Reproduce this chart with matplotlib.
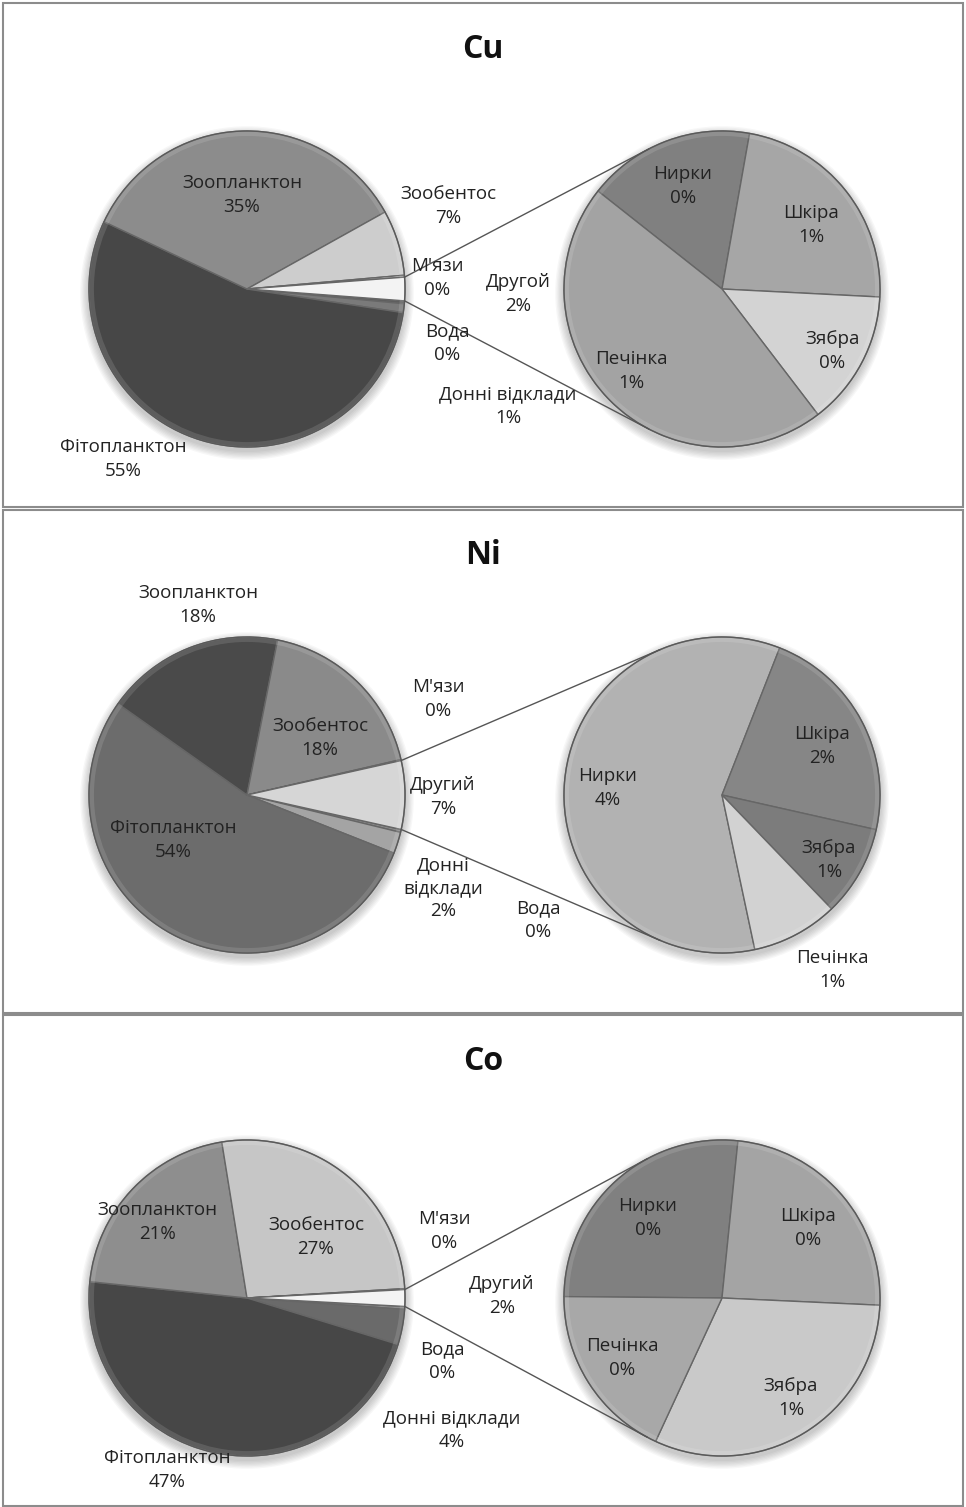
import math
import matplotlib.pyplot as plt
from matplotlib.patches import Rectangle, Circle

plt.rcParams['font.family'] = ['Open Sans', 'DejaVu Sans']

W, H = 966, 1507

titles = ['Cu', 'Ni', 'Co']

# main pie slices, listed clockwise starting just below the "other" slice
main_names = ['Вода', 'Донні відклади', 'Фітопланктон', 'Зоопланктон', 'Зообентос', "М'язи"]
# slices of the secondary pie (the "other" part), clockwise
sub_names = ['Нирки', 'Шкіра', 'Зябра', 'Печінка']
other_names = ['Другой', 'Другий', 'Другий']

cu_main = [0.3, 0.9, 54.6, 34.9, 6.7, 0.2]
cu_sub = [0.41, 0.55, 0.33, 1.10]
ni_main = [0.3, 2.2, 53.8, 18.3, 18.3, 0.1]
ni_sub = [4.15, 1.58, 0.65, 0.62]
co_main = [0.3, 3.6, 46.9, 20.8, 26.6, 0.1]
co_sub = [0.45, 0.41, 0.53, 0.31]

mains = [cu_main, ni_main, co_main]
subs = [cu_sub, ni_sub, co_sub]

# grey fills: main slices + other, then secondary slices
main_colors = [
    ['#5e5e5e', '#7a7a7a', '#474747', '#8c8c8c', '#cdcdcd', '#e2e2e2', '#f3f3f3'],
    ['#8a8a8a', '#a4a4a4', '#6c6c6c', '#4a4a4a', '#8a8a8a', '#c4c4c4', '#d6d6d6'],
    ['#8c8c8c', '#6a6a6a', '#474747', '#8e8e8e', '#c6c6c6', '#dedede', '#f3f3f3'],
]
sub_colors = [
    ['#808080', '#a6a6a6', '#d3d3d3', '#a3a3a3'],
    ['#b2b2b2', '#868686', '#7c7c7c', '#d2d2d2'],
    ['#808080', '#a4a4a4', '#c9c9c9', '#a8a8a8'],
]

# layout (pixel coordinates, y measured from the top)
R = 158
main_cx, sub_cx = 247, 722
centers_y = [289, 795, 1298]
title_y = [49, 555, 1061]
sub_start = [141.7, -78.0, -180.5]
panels = [(3, 507), (510, 1013), (1015, 1506)]

main_label_pos = [
    [(447, 343), (508, 406), (123, 459), (242, 195), (448, 206), (437, 278)],
    [(538, 920), (443, 888), (173, 840), (198, 605), (320, 738), (438, 699)],
    [(442, 1361), (452, 1430), (167, 1470), (157, 1222), (316, 1237), (444, 1231)],
]
other_label_pos = [(518, 294), (443, 797), (502, 1296)]
sub_label_pos = [
    [(683, 186), (811, 225), (832, 351), (631, 371)],
    [(608, 788), (822, 746), (829, 860), (832, 970)],
    [(648, 1218), (808, 1228), (791, 1398), (622, 1358)],
]


def Y(y):
    return H - y


def pct(v, total):
    return int(math.floor(v / total * 100 + 0.5))


def tangent_point(p, c, r, upper):
    d = math.hypot(p[0] - c[0], p[1] - c[1])
    base = math.atan2(p[1] - c[1], p[0] - c[0])
    off = math.acos(r / d)
    a = base - off if upper else base + off
    return c[0] + r * math.cos(a), c[1] + r * math.sin(a)


def draw_shadow(ax, c):
    for k in range(7):
        ax.add_patch(Circle((c[0], c[1] - 4), R + 1 + k * 1.3,
                            color='#000000', alpha=0.03, lw=0, zorder=0))


def draw_bevel(ax, c):
    # faint light rim inside the pie edge
    ax.add_patch(Circle(c, R - 2.5, fill=False, edgecolor='white', lw=3.5,
                        alpha=0.12, zorder=3))
    ax.add_patch(Circle(c, R, fill=False, edgecolor='#555555', lw=1.0,
                        alpha=0.8, zorder=3))


fig = plt.figure(figsize=(W / 100, H / 100), dpi=100)
ax = fig.add_axes([0, 0, 1, 1])

wprops = dict(edgecolor='#666666', linewidth=1.0)
label_kw = dict(ha='center', va='center', fontsize=13.5, color='#222222', linespacing=1.36)

for i in range(3):
    main_vals = mains[i]
    sub_vals = subs[i]
    other = sum(sub_vals)
    total = sum(main_vals) + other
    cy = Y(centers_y[i])
    mc = (main_cx, cy)
    sc = (sub_cx, cy)

    draw_shadow(ax, mc)
    draw_shadow(ax, sc)

    half = 360 * other / total / 2
    ax.pie(main_vals + [other], colors=main_colors[i], startangle=-half,
           counterclock=False, radius=R, center=mc, wedgeprops=wprops, frame=True)
    ax.pie(sub_vals, colors=sub_colors[i], startangle=sub_start[i],
           counterclock=False, radius=R, center=sc, wedgeprops=wprops, frame=True)
    draw_bevel(ax, mc)
    draw_bevel(ax, sc)

    # connector lines from the "other" slice to the secondary pie
    for sign, upper in ((1, True), (-1, False)):
        a = math.radians(sign * half)
        p = (mc[0] + R * math.cos(a), mc[1] + R * math.sin(a))
        q = tangent_point(p, sc, R, upper)
        ax.plot([p[0], q[0]], [p[1], q[1]], color='#555555', lw=1.0, zorder=5)

    for name, v, (x, y) in zip(main_names, main_vals, main_label_pos[i]):
        text = name
        if i == 1 and name == 'Донні відклади':
            text = 'Донні\nвідклади'
        ax.text(x, Y(y), '%s\n%d%%' % (text, pct(v, total)), zorder=6, **label_kw)
    x, y = other_label_pos[i]
    ax.text(x, Y(y), '%s\n%d%%' % (other_names[i], pct(other, total)), zorder=6, **label_kw)
    for name, v, (x, y) in zip(sub_names, sub_vals, sub_label_pos[i]):
        ax.text(x, Y(y), '%s\n%d%%' % (name, pct(v, total)), zorder=6, **label_kw)

    ax.text(W / 2, Y(title_y[i]), titles[i], ha='center', va='center',
            fontsize=23, fontweight='bold', color='#111111')

    top, bottom = panels[i]
    ax.add_patch(Rectangle((3, Y(bottom)), W - 6, bottom - top, fill=False,
                           edgecolor='#8c8c8c', lw=1.5, zorder=7))

ax.set_xlim(0, W)
ax.set_ylim(0, H)
ax.set_aspect('equal')
ax.axis('off')

fig.savefig('out.png', dpi=100, facecolor='white')
